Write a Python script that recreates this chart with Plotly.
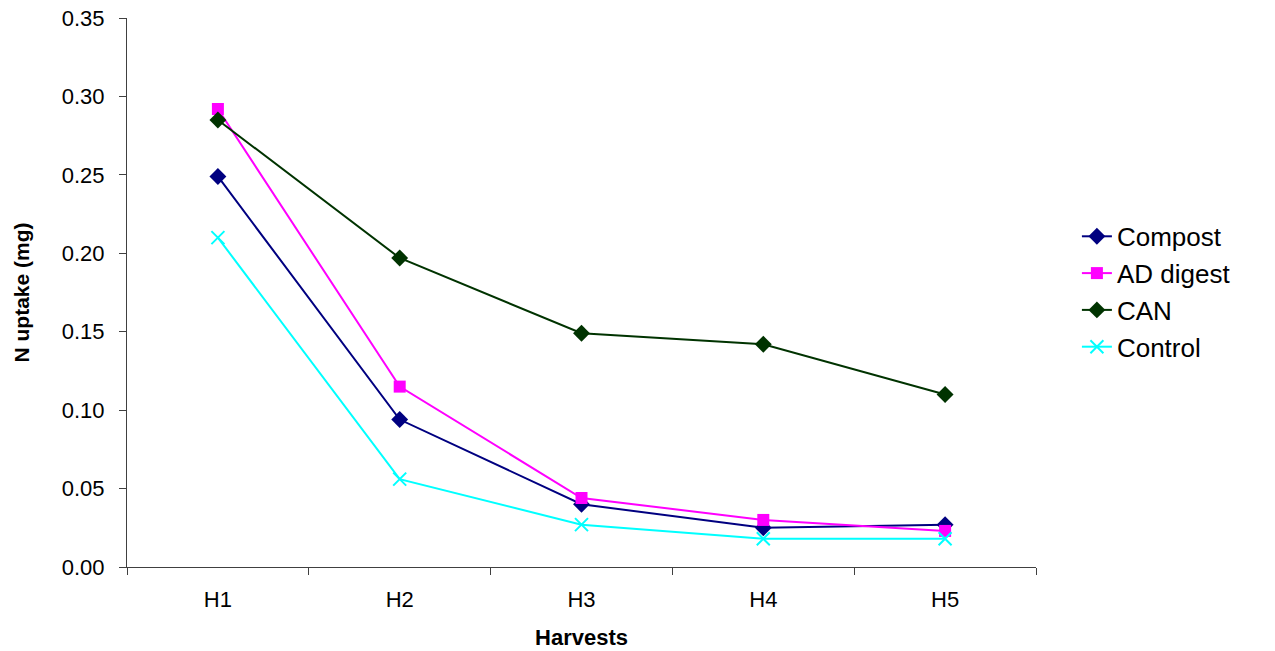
import plotly.graph_objects as go

harvests = ["H1", "H2", "H3", "H4", "H5"]
compost = [0.249, 0.094, 0.040, 0.025, 0.027]
ad_digest = [0.292, 0.115, 0.044, 0.030, 0.023]
can = [0.285, 0.197, 0.149, 0.142, 0.110]
control = [0.210, 0.056, 0.027, 0.018, 0.018]

series = [
    ("Compost", compost, "#000080", "diamond", 13, None),
    ("AD digest", ad_digest, "#FF00FF", "square", 12, None),
    ("CAN", can, "#003300", "diamond", 13, None),
    ("Control", control, "#00FFFF", "x-thin", 13, 2),
]

fig = go.Figure()
for name, vals, color, symbol, size, lw in series:
    marker = dict(symbol=symbol, size=size, color=color)
    if lw:
        marker["line"] = dict(color=color, width=lw)
    fig.add_trace(go.Scatter(
        x=harvests, y=vals, name=name, mode="lines+markers",
        line=dict(color=color, width=2), marker=marker,
    ))

FAMILY = "Liberation Sans, Arial, sans-serif"
AXIS_COLOR = "#404040"

fig.update_layout(
    width=1275, height=651,
    margin=dict(l=127, r=239, t=18, b=84),
    plot_bgcolor="white", paper_bgcolor="white",
    font=dict(family=FAMILY, size=20, color="black"),
    showlegend=True,
    legend=dict(x=1.045, y=0.645, xanchor="left", yanchor="top",
                font=dict(family=FAMILY, size=26, color="black"),
                bgcolor="rgba(0,0,0,0)"),
    xaxis=dict(
        type="category", range=[-0.5, 4.5], tickson="boundaries",
        showline=True, linecolor=AXIS_COLOR, linewidth=1,
        ticks="outside", ticklen=7, tickcolor=AXIS_COLOR,
        showgrid=False, zeroline=False, automargin=False,
        tickfont=dict(family=FAMILY, size=22, color="black"),
        ticklabelstandoff=13,
        title=dict(text="<b>Harvests</b>", font=dict(family=FAMILY, size=22), standoff=18),
    ),
    yaxis=dict(
        range=[0, 0.35], dtick=0.05, tickformat=".2f",
        showline=True, linecolor=AXIS_COLOR, linewidth=1,
        ticks="outside", ticklen=7, tickcolor=AXIS_COLOR,
        showgrid=False, zeroline=False, automargin=False,
        tickfont=dict(family=FAMILY, size=22, color="black"),
        ticklabelstandoff=10,
        title=dict(text="<b>N uptake (mg)</b>", font=dict(family=FAMILY, size=21), standoff=26),
    ),
)

fig.write_html("out.html")
